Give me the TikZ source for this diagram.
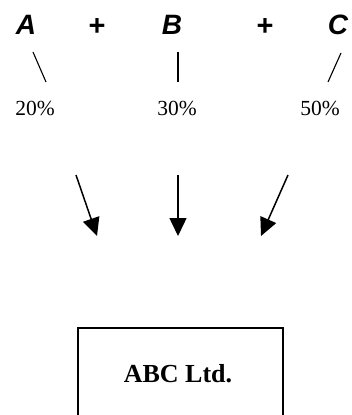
\documentclass[tikz,border=0pt]{standalone}
\usepackage{fontspec}
\setmainfont{Liberation Serif}
\newfontfamily\arialfont{Liberation Sans}
\usetikzlibrary{arrows.meta}
\tikzset{
  letter/.style={font=\arialfont\bfseries\itshape\fontsize{28}{32}\selectfont, inner sep=0pt},
  plus/.style={font=\arialfont\bfseries\fontsize{29}{32}\selectfont, inner sep=0pt},
  pct/.style={font=\fontsize{21.5}{25}\selectfont, inner sep=0pt},
  tick/.style={line width=1.1pt},
  flow/.style={line width=1.5pt, -{Triangle[length=18pt, width=17pt]}},
  company/.style={draw, line width=1.8pt, minimum width=205pt, minimum height=120pt, anchor=north west, inner sep=0pt}
}
\begin{document}
\begin{tikzpicture}[x=1pt, y=-1pt]
\useasboundingbox (0,0) rectangle (352,415);
\clip (0,0) rectangle (352,415);
\node[letter] (a) at (26,25) {A};
\node[plus] (p1) at (97,27) {+};
\node[letter] (b) at (172,25) {B};
\node[plus] (p2) at (265,27) {+};
\node[letter] (c) at (338,25) {C};
\coordinate (a1) at (33,52); \coordinate (a2) at (46,82);
\coordinate (b1) at (178,52); \coordinate (b2) at (178,82);
\coordinate (c1) at (341,53); \coordinate (c2) at (328,82);
\draw[tick] (a1) -- (a2);
\draw[tick] (b1) -- (b2);
\draw[tick] (c1) -- (c2);
\node[pct] (pa) at (35,108) {20\%};
\node[pct] (pb) at (177,108) {30\%};
\node[pct] (pc) at (320,108) {50\%};
\coordinate (s1) at (76,175); \coordinate (t1) at (97,236);
\coordinate (s2) at (178,175); \coordinate (t2) at (178,236);
\coordinate (s3) at (288,175); \coordinate (t3) at (261,236);
\draw[flow] (s1) -- (t1);
\draw[flow] (s2) -- (t2);
\draw[flow] (s3) -- (t3);
\node[company] (box) at (77,327) {};
\node[font=\bfseries\fontsize{26}{30}\selectfont, inner sep=0pt] (lbl) at (178,374) {ABC Ltd.};
\end{tikzpicture}
\end{document}
